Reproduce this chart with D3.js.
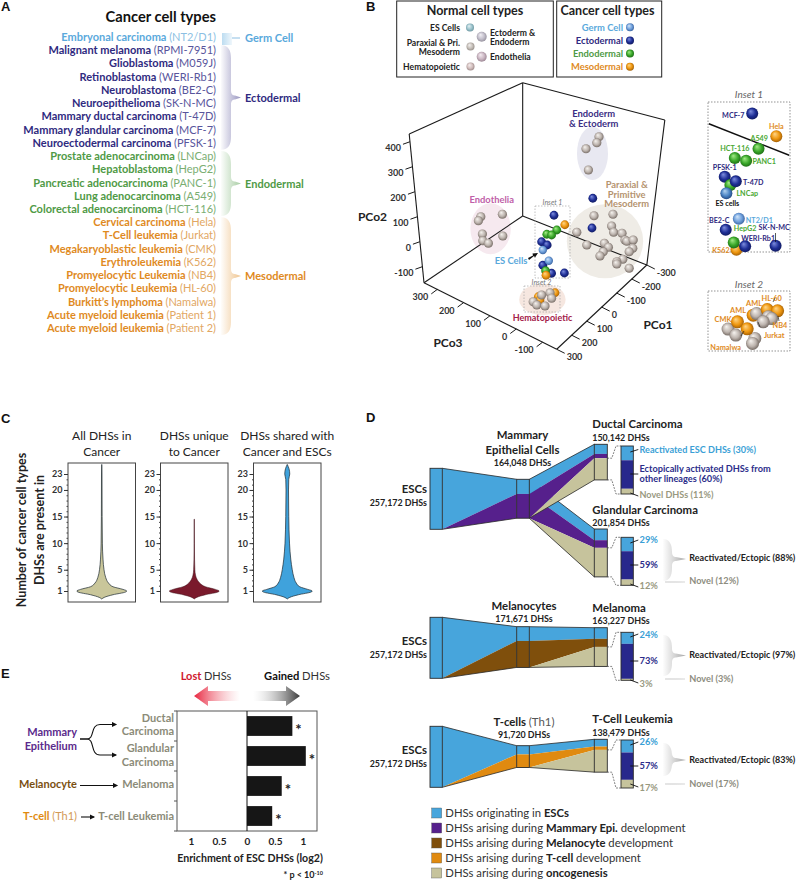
<!DOCTYPE html>
<html><head><meta charset="utf-8">
<script src="https://cdn.jsdelivr.net/npm/d3@7/dist/d3.min.js"></script>
<style>html,body{margin:0;padding:0;background:#fff}svg{display:block;font-family:Lato,"Open Sans",sans-serif}</style>
</head><body><script>
// ---------- DATA ----------
const cancerNames=["Embryonal carcinoma","Malignant melanoma","Glioblastoma","Retinoblastoma","Neuroblastoma","Neuroepithelioma","Mammary ductal carcinoma","Mammary glandular carcinoma","Neuroectodermal carcinoma","Prostate adenocarcinoma","Hepatoblastoma","Pancreatic adenocarcinoma","Lung adenocarcinoma","Colorectal adenocarcinoma","Cervical carcinoma","T-Cell leukemia","Megakaryoblastic leukemia","Erythroleukemia","Promyelocytic Leukemia","Promyelocytic Leukemia","Burkitt’s lymphoma","Acute myeloid leukemia","Acute myeloid leukemia"];
const cancerLines=["NT2/D1","RPMI-7951","M059J","WERI-Rb1","BE2-C","SK-N-MC","T-47D","MCF-7","PFSK-1","LNCap","HepG2","PANC-1","A549","HCT-116","Hela","Jurkat","CMK","K562","NB4","HL-60","Namalwa","Patient 1","Patient 2"];
const cancerLineage=["germ","ecto","ecto","ecto","ecto","ecto","ecto","ecto","ecto","endo","endo","endo","endo","endo","meso","meso","meso","meso","meso","meso","meso","meso","meso"];
const lineageKeys=["germ","ecto","endo","meso"];
const lineageLabels=["Germ Cell","Ectodermal","Endodermal","Mesodermal"];

// PCoA points, read in the plane of the picture [horizontal, vertical]
const endodermPts=[[162.5,425],[157,401],[130,377],[136,292]];
const endotheliaPts=[[-133,105],[-139,89],[-79,115],[-129,36],[-78,28],[-128,9],[-114,-1]];
const paraxialPts=[[150,109],[197.5,115],[194,68],[199,43],[220,39],[107,43],[227.5,12],[232,7],[248,12],[247,-21],[238,-35],[176,-1],[186,-17],[173,-35],[165,-52],[132,-8],[222,-65],[207,-75],[207,-84],[238,-101]];
const hemaPts=[[40,-199],[19,-208],[-2,-235],[7,-248],[27.5,-252],[44,-221]];
const cancerOrangePts=[[10.8,-215],[52.5,-199],[15,-228],[77,73],[30,-129]];
const cancerBluePts=[[147,179],[145,60],[50,111],[19,5],[33,-8],[22,-89],[44,-121],[76,-120]];
const cancerGreenPts=[[57,52],[32,35],[44,32],[29,-111]];
const cancerLightPts=[[37,-71],[22,-28]];
const frameCorners={backTop:[-28.3,641],backBottom:[-28.3,108],leftTop:[-312,436],leftBottom:[-275,-159],front:[56.7,-425],rightBottom:[282,-88],rightTop:[327,492]};
const pco1Ticks=[300,200,100,0,-100,-200,-300];
const pco2Ticks=[400,300,200,100,0,-100];
const pco3Ticks=[300,200,100,0,-100];

// Insets: percent across / up each inset
const inset1Pts=[["MCF-7",53.9,92.3,"blue"],["Hela",83.3,77.2,"orange"],["A549",61.6,68.8,"green"],["HCT-116",32.7,62.6,"green"],["PANC1",46.5,60.8,"green"],["PFSK-1",20.4,50.2,"blue"],["LNCap",27.3,44.7,"green"],["T-47D",33.9,47.1,"blue"],["ES cells",22.4,39.2,"steel"],["NT2/D1",37.6,22.1,"light"],["BE2-C",21.6,14.8,"blue"],["K562",34.7,1.5,"orange"],["HepG2",31.4,6.4,"green"],["WERI-Rb1",45.3,3.8,"blue"],["SK-N-MC",82.4,4.2,"blue"]];
const inset2Pts=[[24.5,36.5,"grey"],[33.9,26.5,"grey"],[57.1,21,"grey"],[54.3,12.7,"grey"],[55.1,59.7,"orange"],[59.2,62.4,"grey"],[72.2,69,"orange"],[84.9,66.9,"orange"],[73.5,56.9,"grey"],[77.6,54.1,"grey"],[67.3,48.6,"grey"],[35.9,48.6,"orange"],[47.8,37,"orange"]];
const inset2Labels=[["CMK",18.4,53.6],["AML",36.7,69.1],["AML",56.1,80.7],["HL-60",77.6,89],["NB4",87.8,44],["Jurkat",80.8,26],["Namalwa",21.6,6.1]];

// Violins: level (number of cell types) and relative density
const violinTitles=[["All DHSs in","Cancer"],["DHSs unique","to Cancer"],["DHSs shared with","Cancer and ESCs"]];
const violinLevelsA=[-0.5,-0.2,0.3,0.8,1,1.3,1.8,2.5,3.5,5,7,10,15,23,24.8];
const violinDensityA=[0,.1,.45,.95,1,.85,.45,.27,.16,.09,.05,.025,.015,.01,0];
const violinLevelsB=[-0.5,-0.2,0.3,0.8,1,1.3,1.8,2.5,3.2,4,5,7,10,14.5];
const violinDensityB=[0,.1,.45,.95,1,.85,.45,.22,.11,.05,.025,.012,.008,.006];
const violinLevelsC=[-0.5,-0.2,0.3,0.8,1,1.3,1.8,2.5,3.5,5,7,10,15,20,22,23,24,24.8];
const violinDensityC=[0,.1,.45,.95,1,.82,.5,.36,.27,.2,.14,.09,.06,.05,.06,.1,.07,0];
const violinTicks=[1,5,10,15,20,23];

// Enrichment bars
const enrichNames=["Ductal Carcinoma","Glandular Carcinoma","Melanoma","T-cell Leukemia"];
const enrichValues=[0.81,1.05,0.62,0.45];
const enrichTicks=[-1,-0.5,0,0.5,1];

// DHS flows
const escTotal=257172;
const mammaryTotal=164048,ductalTotal=150142,glandularTotal=201854,melanocyteTotal=171671,melanomaTotal=163227,tcellTotal=91720,leukemiaTotal=138479;
const mammaryShares=[.376,.624],ductalShares=[.27,.12,.61],glandularShares=[.234,.159,.607];
const melanocyteShares=[.35,.65],melanomaShares=[.287,.209,.504];
const tcellShares=[.40,.60],leukemiaShares=[.222,.10,.678];
const ductalDetail=[30,60,11],glandularDetail=[29,59,12],melanomaDetail=[24,73,3],leukemiaDetail=[26,57,17];
const legendPrefix=["DHSs originating in ","DHSs arising during ","DHSs arising during ","DHSs arising during ","DHSs arising during "];
const legendBold=["ESCs","Mammary Epi.","Melanocyte","T-cell","oncogenesis"];
const legendSuffix=[""," development"," development"," development",""];

// ---------- STYLES ----------
const lineageColor={germ:"#5aa9dc",ecto:"#2f2a80",endo:"#4f9a46",meso:"#e08a1e"};
const lineageSoft={germ:"#8cbfe3",ecto:"#58559c",endo:"#7aae72",meso:"#e2a763"};
const C={blue:"#47a5dc",purple:"#56208c",brown:"#7f4f0c",orange:"#e08a10",tan:"#c6c39c",navy:"#28288c",ink:"#222",grey:"#8b8b78"};
const sphereStops={blue:["#7f8fe0","#1f2f96","#0c1450"],green:["#a5ec88","#3aa82a","#14590f"],orange:["#ffd68a","#ee960e","#8a4e05"],grey:["#f7f4f0","#bdb4ae","#5e534c"],light:["#d3e6fa","#6fa0dc","#284f8c"],steel:["#b5d4f0","#4b84c4","#17376e"],fadeTeal:["#e6f2f5","#9cc3cc","#5e8a94"],fadeGrey:["#f5f2f0","#c5bfb9","#89817b"],fadeMauve:["#f6eef2","#cbb7c3","#8c7683"],fadePink:["#f7efee","#d2bfbe","#8f7b7a"],fadeLav:["#f3f1f6","#c3bfcb","#87838f"]};

// ---------- HELPERS ----------
const svg=d3.select("body").append("svg").attr("width",800).attr("height",880);
const defs=svg.append("defs");
Object.entries(sphereStops).forEach(([k,s])=>{
  const g=defs.append("radialGradient").attr("id","sp-"+k).attr("cx",.5).attr("cy",.5).attr("r",.6).attr("fx",.36).attr("fy",.3);
  [[0,s[0]],[.55,s[1]],[1,s[2]]].forEach(d=>g.append("stop").attr("offset",d[0]).attr("stop-color",d[1]));
});
let gid=0;
function hgrad(c1,o1,c2,o2){const id="g"+(gid++);const g=defs.append("linearGradient").attr("id",id);
  g.append("stop").attr("offset",0).attr("stop-color",c1).attr("stop-opacity",o1);
  g.append("stop").attr("offset",1).attr("stop-color",c2).attr("stop-opacity",o2);return `url(#${id})`;}
function txt(p,x,y,s,o={}){const t=p.append("text").attr("x",x).attr("y",y).attr("font-size",o.size||11).attr("fill",o.fill||C.ink).attr("text-anchor",o.anchor||"start").attr("font-weight",o.weight||400);
  if(o.style)t.attr("font-style",o.style);if(o.family)t.attr("font-family",o.family);if(s!=null)t.text(s);return t;}
function sphere(p,x,y,r,k){p.append("circle").attr("cx",x).attr("cy",y).attr("r",r).attr("fill",`url(#sp-${k})`);}
function brace(p,x0,y0,y1,xm,tipX,tipY,fill){
  const d=`M${x0},${y0}C${xm-2},${y0} ${xm},${y0+6} ${xm},${y0+13}L${xm},${tipY-7}C${xm},${tipY-3} ${xm+2},${tipY-2} ${xm+4},${tipY-2}L${tipX},${tipY}L${xm+4},${tipY+2}C${xm+2},${tipY+2} ${xm},${tipY+3} ${xm},${tipY+7}L${xm},${y1-13}C${xm},${y1-6} ${xm-2},${y1} ${x0},${y1}Z`;
  p.append("path").attr("d",d).attr("fill",fill);
}
[["A",1,11],["B",366,11],["C",1,423],["D",366,422],["E",1,678]].forEach(d=>txt(svg,d[1],d[2],d[0],{size:13,weight:700,family:"Liberation Sans",fill:"#111"}));

// ---------- PANEL A ----------
(function(){
  const g=svg.append("g");
  txt(g,216,22,"Cancer cell types",{size:14.7,weight:700,anchor:"end",fill:"#111"});
  const row=d3.scalePoint().domain(d3.range(cancerNames.length)).range([41,332]);
  cancerNames.forEach((n,i)=>{
    const l=cancerLineage[i];
    const t=txt(g,216,row(i),null,{size:11,anchor:"end"});
    t.append("tspan").attr("font-weight",700).attr("fill",lineageColor[l]).text(n+" ");
    t.append("tspan").attr("fill",lineageSoft[l]).text("("+cancerLines[i]+")");
  });
  lineageKeys.forEach((k,i)=>{
    const idx=cancerLineage.map((d,j)=>d===k?j:-1).filter(j=>j>=0);
    const y0=row(idx[0])-9,y1=row(idx[idx.length-1])+3,mid=(y0+y1)/2;
    const grad=hgrad(lineageColor[k],0.02,lineageColor[k],0.5);
    if(k==="germ"){
      g.append("rect").attr("x",222).attr("y",y0+1).attr("width",10).attr("height",y1-y0).attr("fill",hgrad(lineageColor[k],0.4,lineageColor[k],0.1));
      g.append("line").attr("x1",232).attr("x2",240).attr("y1",mid).attr("y2",mid).attr("stroke",lineageSoft[k]);
    } else brace(g,221,y0,y1,231,241,mid,grad);
    txt(g,245,mid+4,lineageLabels[i],{size:11,weight:700,fill:lineageColor[k]});
  });
})();

// ---------- PANEL B ----------
const xProj=d3.scaleLinear([-300,300],[414,654]);
const yProj=d3.scaleLinear([-100,400],[268,143]);
(function(){
  const g=svg.append("g");
  // Legends
  g.append("rect").attr("x",396.7).attr("y",1).attr("width",156.6).attr("height",76).attr("fill","#fff").attr("stroke","#222");
  g.append("rect").attr("x",556.7).attr("y",1).attr("width",105).attr("height",76).attr("fill","#fff").attr("stroke","#222");
  txt(g,475,15,"Normal cell types",{size:12.5,weight:700,anchor:"middle"});
  txt(g,607.5,15,"Cancer cell types",{size:12.5,weight:700,anchor:"middle"});
  [["ES Cells",460,31,470,27.5,"fadeTeal"],["Paraxial & Pri.",460,46,470.5,46.5,"fadeGrey"],["Mesoderm",460,55,null,0,""],["Hematopoietic",460,70,470.5,66.5,"fadePink"]].forEach(d=>{
    txt(g,d[1],d[2],d[0],{size:8.6,weight:700,anchor:"end"}); if(d[3])sphere(g,d[3],d[4],4,d[5]);
  });
  [["Ectoderm &",490,36],["Endoderm",490,44.5],["Endothelia",490,60]].forEach(d=>txt(g,d[1],d[2],d[0],{size:8.6,weight:700}));
  sphere(g,481.7,36.7,5,"fadeLav");sphere(g,481.7,56.7,5,"fadeMauve");
  const cy=d3.scalePoint().domain(lineageKeys).range([27.3,66.7]);
  const legendSphere={germ:"light",ecto:"blue",endo:"green",meso:"orange"};
  lineageKeys.forEach((k,i)=>{txt(g,623,cy(k)+3.5,lineageLabels[i],{size:9.4,weight:700,anchor:"end",fill:lineageColor[k]});sphere(g,630,cy(k),4,legendSphere[k]);});

  // cluster halos from the cluster extents
  const halo=(pts,pad,fill,pw,ph)=>{
    const ex=d3.extent(pts,d=>xProj(d[0])),ey=d3.extent(pts,d=>yProj(d[1]));
    g.append("ellipse").attr("cx",(ex[0]+ex[1])/2).attr("cy",(ey[0]+ey[1])/2).attr("rx",(ex[1]-ex[0])/2+(pw||pad)).attr("ry",(ey[1]-ey[0])/2+(ph||pad)).attr("fill",fill);
  };
  halo(endodermPts,10,"#e8e8f1",9,10);
  halo(endotheliaPts,10,"#f6e9ef",8,11);
  halo(paraxialPts,10,"#efece6",10,10);
  halo(hemaPts,10,"#f6e7e0",14,9);

  // frame
  const P=c=>[xProj(frameCorners[c][0]),yProj(frameCorners[c][1])];
  [["backTop","backBottom"],["backTop","leftTop"],["backTop","rightTop"],["leftTop","leftBottom"],["rightTop","rightBottom"],["backBottom","leftBottom"],["backBottom","rightBottom"],["leftBottom","front"],["front","rightBottom"]].forEach(e=>{
    const a=P(e[0]),b=P(e[1]);
    g.append("line").attr("x1",a[0]).attr("y1",a[1]).attr("x2",b[0]).attr("y2",b[1]).attr("stroke","#1a1a1a").attr("stroke-width",1.1);
  });
  const axis3d=(ticks,dom,tr,a,b,dx,dy,lx,ly,anchor)=>{
    const t=d3.scaleLinear(dom,tr);const ip=d3.interpolate(P(a),P(b));
    ticks.forEach(v=>{const q=ip(t(v));
      g.append("line").attr("x1",q[0]).attr("y1",q[1]).attr("x2",q[0]+dx).attr("y2",q[1]+dy).attr("stroke","#1a1a1a");
      txt(g,q[0]+lx,q[1]+ly,d3.format("d")(v).replace("−","-"),{size:9,anchor,weight:700,fill:"#333"});
    });
  };
  axis3d(pco2Ticks,[-100,400],[.108,.948],"leftBottom","leftTop",-7,2.5,-9,9,"end");
  axis3d(pco3Ticks,[300,-100],[.10,.894],"leftBottom","front",-6,4.5,-9,11,"end");
  axis3d(pco1Ticks,[300,-300],[0,1],"front","rightBottom",8,4,10,11,"start");
  txt(g,372.5,221,"PCo2",{size:12,weight:700,anchor:"middle",fill:"#222"});
  txt(g,448,347,"PCo3",{size:12,weight:700,anchor:"middle",fill:"#222"});
  txt(g,658,329,"PCo1",{size:12,weight:700,anchor:"middle",fill:"#222"});

  // inset boxes
  [[535,206,35,72],[524,286,36,26]].forEach(b=>g.append("rect").attr("x",b[0]).attr("y",b[1]).attr("width",b[2]).attr("height",b[3]).attr("fill","none").attr("stroke","#a8a8a8").attr("stroke-width",.7).attr("stroke-dasharray","1.5 1.5"));
  txt(g,552.5,205,"Inset 1",{size:7,style:"italic",anchor:"middle",fill:"#777"});
  txt(g,541.5,284.5,"Inset 2",{size:7,style:"italic",anchor:"middle",fill:"#777"});

  // spheres
  const draw=(pts,k,r)=>pts.forEach(d=>sphere(g,xProj(d[0]),yProj(d[1]),r,k));
  draw(endodermPts,"grey",4.6);draw(endotheliaPts,"grey",4.6);draw(paraxialPts,"grey",4.6);
  draw(cancerBluePts,"blue",4.4);draw(cancerGreenPts,"green",4.4);draw(cancerLightPts,"light",4.2);
  draw(cancerOrangePts,"orange",4.4);draw(hemaPts,"grey",4.6);

  // labels
  txt(g,593.7,117,"Endoderm",{size:9.4,weight:700,anchor:"middle",fill:"#3b2e84"});
  txt(g,593.7,127,"& Ectoderm",{size:9.4,weight:700,anchor:"middle",fill:"#3b2e84"});
  ["Paraxial &","Primitive","Mesoderm"].forEach((s,i)=>txt(g,626.7,188+i*9.7,s,{size:9.4,weight:700,anchor:"middle",fill:"#b5936f"}));
  txt(g,491.7,203,"Endothelia",{size:9.4,weight:700,anchor:"middle",fill:"#c060a8"});
  txt(g,511,264,"ES Cells",{size:9.4,weight:700,anchor:"middle",fill:"#5aa9dc"});
  g.append("path").attr("d","M528,258L533,255.5L532.5,253.5L538,253L535,257.5L534,256L529,260Z").attr("fill","#111");
  txt(g,542.5,321,"Hematopoietic",{size:9,weight:700,anchor:"middle",fill:"#a3204a"});
})();

// Insets on the right
(function(){
  const g=svg.append("g");
  const box1={x:708,y:102,w:82,h:150},box2={x:708,y:291,w:82,h:60};
  [box1,box2].forEach(b=>g.append("rect").attr("x",b.x).attr("y",b.y).attr("width",b.w).attr("height",b.h).attr("fill","none").attr("stroke","#666").attr("stroke-width",.7).attr("stroke-dasharray","1.5 1.5"));
  txt(g,749,98,"Inset 1",{size:10,style:"italic",anchor:"middle",fill:"#666"});
  txt(g,749,288,"Inset 2",{size:10,style:"italic",anchor:"middle",fill:"#666"});
  const x1=d3.scaleLinear([0,100],[box1.x,box1.x+box1.w]),y1=d3.scaleLinear([0,100],[box1.y+box1.h,box1.y]);
  const x2=d3.scaleLinear([0,100],[box2.x,box2.x+box2.w]),y2=d3.scaleLinear([0,100],[box2.y+box2.h,box2.y]);
  g.append("line").attr("x1",x1(1)).attr("y1",y1(85.5)).attr("x2",x1(99)).attr("y2",y1(64.5)).attr("stroke","#111").attr("stroke-width",1.4);
  inset1Pts.forEach(d=>sphere(g,x1(d[1]),y1(d[2]),6,d[3]));
  const place={"MCF-7":[-7.7,1,"end"],"Hela":[0,-10,"middle"],"A549":[.7,-10.7,"middle"],"HCT-116":[0,-9.7,"middle"],"PANC1":[6.3,0,"start"],"PFSK-1":[0,-9.3,"middle"],"T-47D":[7.3,.3,"start"],"LNCap":[6,8.3,"start"],"ES cells":[1,9.3,"middle"],"NT2/D1":[7,.7,"start"],"BE2-C":[-16.7,-9.7,"start"],"K562":[-24.3,0,"start"],"HepG2":[0,-14,"start"],"SK-N-MC":[-17,-18.5,"start"],"WERI-Rb1":[-4,-8.2,"start"]};
  const lab={blue:lineageColor.ecto,green:"#4aa832",orange:lineageColor.meso,light:lineageColor.germ,steel:"#111"};
  inset1Pts.forEach(d=>{const p=place[d[0]];txt(g,x1(d[1])+p[0],y1(d[2])+p[1]+3,d[0],{size:7.2,weight:700,anchor:p[2],fill:lab[d[3]]});});
  // label leaders in inset 1
  g.append("line").attr("x1",775.5).attr("x2",775.5).attr("y1",233).attr("y2",242).attr("stroke","#111").attr("stroke-width",.7);
  inset2Pts.forEach(d=>sphere(g,x2(d[0]),y2(d[1]),6.5,d[2]));
  inset2Labels.forEach(d=>txt(g,x2(d[1]),y2(d[2])+3,d[0],{size:7.4,weight:700,anchor:"middle",fill:lineageColor.meso}));
  // label leaders in inset 2
  [[775,298,773,302],[778,316,779,321],[760,327,758,322],[741,336,744,331]].forEach(d=>g.append("line").attr("x1",d[0]).attr("y1",d[1]).attr("x2",d[2]).attr("y2",d[3]).attr("stroke","#222").attr("stroke-width",.7));
})();

// ---------- PANEL C ----------
(function(){
  const g=svg.append("g");
  const y=d3.scaleLinear([1,23],[591,474]);
  const lefts=[68,160.5,253.5],width=67.5,w=d3.scaleLinear([0,1],[0,25]);
  const series=[[violinLevelsA,violinDensityA,"#c9c69a"],[violinLevelsB,violinDensityB,"#7a1a2c"],[violinLevelsC,violinDensityC,"#3fa2dc"]];
  series.forEach((s,i)=>{
    const L=lefts[i],c=L+width/2;
    g.append("rect").attr("x",L).attr("y",463).attr("width",width).attr("height",139).attr("fill","#fff").attr("stroke","#444").attr("stroke-width",1);
    const rows=s[0].map((v,j)=>[v,s[1][j]]);
    const area=d3.area().y(d=>y(d[0])).x0(d=>c-w(d[1])).x1(d=>c+w(d[1])).curve(d3.curveMonotoneY);
    g.append("path").attr("d",area(rows)).attr("fill",s[2]).attr("stroke",i==1?"#3a0d14":"#1c2a30").attr("stroke-width",i==1?.5:.7);
    const ax=d3.axisLeft(y).tickValues(d3.range(1,24)).tickSize(1.5).tickFormat("");
    const ag=g.append("g").attr("transform",`translate(${L},0)`).call(ax);
    ag.select(".domain").remove();ag.selectAll("line").attr("stroke","#444");
    const ax2=d3.axisLeft(y).tickValues(violinTicks).tickSize(4).tickPadding(1.5);
    const ag2=g.append("g").attr("transform",`translate(${L},0)`).call(ax2);
    ag2.select(".domain").remove();ag2.selectAll("line").attr("stroke","#333");
    ag2.selectAll("text").attr("font-size",9).attr("font-family","Lato").attr("font-weight",700).attr("fill","#333");
    violinTitles[i].forEach((t,j)=>txt(g,c,440+j*15.5,t,{size:12,anchor:"middle",fill:"#222"}));
  });
  [["Number of cancer cell types",25.5],["DHSs are present in",44]].forEach(d=>
    txt(g,0,0,d[0],{size:12.5,weight:700,anchor:"middle",fill:"#222"}).attr("transform",`translate(${d[1]},530) rotate(-90)`));
})();

// ---------- PANEL E ----------
(function(){
  const g=svg.append("g");
  const x=d3.scaleLinear([-1,1],[191,303]);
  const y=d3.scaleBand().domain(enrichNames).range([711,831]).paddingInner(.34).paddingOuter(.17);
  g.selectAll("rect.bar").data(enrichValues).join("rect").attr("class","bar").attr("x",x(0)).attr("y",(d,i)=>y(enrichNames[i])).attr("width",d=>x(d)-x(0)).attr("height",y.bandwidth()).attr("fill","#161616");
  enrichValues.forEach((d,i)=>txt(g,x(d)+3,y(enrichNames[i])+y.bandwidth()/2+9,"*",{size:15,weight:700}));
  g.append("rect").attr("x",177).attr("y",711).attr("width",140).attr("height",120).attr("fill","none").attr("stroke","#555").attr("stroke-width",1);
  g.append("line").attr("x1",x(0)).attr("x2",x(0)).attr("y1",711).attr("y2",831).attr("stroke","#111").attr("stroke-width",1);
  const step=y.step();
  d3.range(5).forEach(i=>g.append("line").attr("x1",174).attr("x2",177).attr("y1",711+i*step).attr("y2",711+i*step).attr("stroke","#555"));
  const ax=g.append("g").attr("transform","translate(0,831)").call(d3.axisBottom(x).tickValues(enrichTicks).tickSize(0).tickPadding(7).tickFormat(d=>Math.abs(d)));
  ax.select(".domain").remove();
  ax.selectAll("text").attr("font-size",10).attr("font-family","Lato").attr("font-weight",700).attr("fill","#222");
  txt(g,250,862,"Enrichment of ESC DHSs (log2)",{size:10.6,weight:700,anchor:"middle"});
  const p=txt(g,323,878,null,{size:9,weight:700,anchor:"end"});p.append("tspan").text("* p < 10");p.append("tspan").attr("font-size",5.5).attr("dy",-3).text("-10");
  const lost=txt(g,206,680,null,{size:11,anchor:"middle"});lost.append("tspan").attr("font-weight",700).attr("fill","#d0182e").text("Lost ");lost.append("tspan").attr("fill","#333").text("DHSs");
  const gain=txt(g,297,680,null,{size:11.2,anchor:"middle"});gain.append("tspan").attr("font-weight",700).attr("fill","#111").text("Gained ");gain.append("tspan").attr("fill","#333").text("DHSs");
  g.append("path").attr("d","M194,696L208,686V691H240V701H208V706Z").attr("fill",hgrad("#e8263f",1,"#f3a0a8",0));
  g.append("path").attr("d","M300,696L286,686V691H253V701H286V706Z").attr("fill",hgrad("#cccccc",0,"#3a3a3a",1));
  const right=(s,yy)=>txt(g,174,yy,s,{size:11,weight:700,anchor:"end",fill:C.grey});
  right("Ductal",722);right("Carcinoma",735);right("Glandular",752);right("Carcinoma",766);right("Melanoma",788);right("T-cell Leukemia",820);
  const left=(s,yy,f)=>txt(g,77,yy,s,{size:11,weight:700,anchor:"end",fill:f});
  left("Mammary",736,"#5b2a8c");left("Epithelium",750,"#5b2a8c");left("Melanocyte",788,"#7a4f10");
  const tc=txt(g,77,820,null,{size:11,anchor:"end"});tc.append("tspan").attr("font-weight",700).attr("fill",C.orange).text("T-cell ");tc.append("tspan").attr("fill","#d39a55").text("(Th1)");
  defs.append("marker").attr("id","ah").attr("markerWidth",6).attr("markerHeight",6).attr("refX",4).attr("refY",2.5).attr("orient","auto").append("path").attr("d","M0,0L5,2.5L0,5Z").attr("fill","#111");
  const curve=d=>g.append("path").attr("d",d).attr("fill","none").attr("stroke","#111").attr("stroke-width",1.1).attr("marker-end","url(#ah)");
  curve("M80,739H87C95,739 90,724.5 100,724.5H116");curve("M80,739H87C95,739 90,755 100,755H116");curve("M80,785.5H117");curve("M81,817H94");
})();

// ---------- PANEL D ----------
(function(){
  const g=svg.append("g");
  const h=d3.scaleLinear([0,escTotal],[0,61]);
  const X={escL:430,escR:442.3,midL:516.7,midR:529.3,rL:594.3,rR:607.3,dL:621,dR:633.3};
  const stack=(total,shares,top)=>{let y=top;const o=[y];shares.forEach(s=>{y+=h(total)*s;o.push(y);});return o;};
  const poly=(pts,fill)=>g.append("path").attr("d",d3.line()(pts)+"Z").attr("fill",fill);
  const edge=(a,b,c,d)=>g.append("line").attr("x1",a).attr("y1",b).attr("x2",c).attr("y2",d).attr("stroke","#2a2a2a").attr("stroke-width",.8);
  const bar=(x0,x1,ys,cols)=>{cols.forEach((c,i)=>g.append("rect").attr("x",x0).attr("y",ys[i]).attr("width",x1-x0).attr("height",ys[i+1]-ys[i]).attr("fill",c));
    g.append("rect").attr("x",x0).attr("y",ys[0]).attr("width",x1-x0).attr("height",ys[ys.length-1]-ys[0]).attr("fill","none").attr("stroke","#2a2a2a").attr("stroke-width",.9);};
  const toRight=(m,r,col)=>{
    poly([[X.midR,m[0]],[X.rL,r[0]],[X.rL,r[1]],[X.midR,m[1]]],C.blue);
    poly([[X.midR,m[1]],[X.rL,r[1]],[X.rL,r[2]],[X.midR,m[2]]],col);
    poly([[X.midR,m[2]],[X.rL,r[2]],[X.rL,r[3]]],C.tan);
    edge(X.midR,m[0],X.rL,r[0]);edge(X.midR,m[2],X.rL,r[3]);
    bar(X.rL,X.rR,r,[C.blue,col,C.tan]);
  };
  const fromEsc=(e,m,col)=>{
    poly([[X.escR,e],[X.midL,m[0]],[X.midL,m[1]],[X.escR,e+h(escTotal)]],C.blue);
    poly([[X.escR,e+h(escTotal)],[X.midL,m[1]],[X.midL,m[2]]],col);
    edge(X.escR,e,X.midL,m[0]);edge(X.escR,e+h(escTotal),X.midL,m[2]);
    bar(X.escL,X.escR,[e,e+h(escTotal)],[C.blue]);
  };
  const detail=(r,top,vals)=>{
    const sc=d3.scaleLinear([0,d3.sum(vals)],[0,48]);
    let acc=0;const ys=[top];vals.forEach(v=>{acc+=v;ys.push(top+sc(acc));});
    bar(X.dL,X.dR,ys,[C.blue,C.navy,C.tan]);
    const dash=(a,b)=>g.append("path").attr("d",`M${X.rR},${a}H${X.rR+4.5}L${X.dL-5},${b}H${X.dL}`).attr("fill","none").attr("stroke","#444").attr("stroke-width",.7).attr("stroke-dasharray","1.8 1.2");
    dash(r[2],ys[0]);dash(r[3],ys[3]);
    return ys;
  };
  const leader=(y1,y2)=>g.append("line").attr("x1",X.dR-3).attr("y1",y1).attr("x2",X.dR+5).attr("y2",y2).attr("stroke","#111").attr("stroke-width",.9);
  const title=(x,yy,s,a)=>txt(g,x,yy,s,{size:11.4,weight:700,anchor:a||"start",fill:"#222"});
  const count=(x,yy,s,a)=>txt(g,x,yy,s,{size:8.9,weight:700,anchor:a||"start",fill:"#222"});
  const esc=(yy)=>{title(427,yy,"ESCs","end");count(427,yy+13,"257,172 DHSs","end");};
  const pct=(yy,s,f)=>txt(g,639.5,yy,s,{size:9.3,weight:700,fill:f});
  const summary=(y1,y2,y3,tip,s1,yt1,s2,yt2)=>{
    brace(g,663,y1,y2,672,686,tip,hgrad("#999",0.02,"#888",0.75));
    txt(g,689.3,yt1,s1,{size:9,weight:700,fill:"#222"});
    g.append("rect").attr("x",665).attr("y",y3-1).attr("width",20).attr("height",2).attr("fill",hgrad("#aaa",.3,"#ddd",.6));
    txt(g,689.3,yt2,s2,{size:9.2,weight:700,fill:"#8d8d80"});
  };

  // Mammary
  const m1=stack(mammaryTotal,mammaryShares,479.3),r1=stack(ductalTotal,ductalShares,444.3),r2=stack(glandularTotal,glandularShares,529);
  toRight(m1,r2,C.purple);toRight(m1,r1,C.purple);
  fromEsc(468.3,m1,C.purple);bar(X.midL,X.midR,m1,[C.blue,C.purple]);
  detail(r1,446,ductalDetail);detail(r2,537.3,glandularDetail);
  esc(493);
  title(522.5,439,"Mammary","middle");title(522.5,453.5,"Epithelial Cells","middle");count(522.5,466,"164,048 DHSs","middle");
  title(592.3,428,"Ductal Carcinoma");count(592.3,441,"150,142 DHSs");
  title(592.3,513.5,"Glandular Carcinoma");count(592.3,526,"201,854 DHSs");
  txt(g,639.5,453,"Reactivated ESC DHSs (30%)",{size:9.1,weight:700,fill:"#3a9fd6"});
  txt(g,639.5,471.5,"Ectopically activated DHSs from",{size:9.2,weight:700,fill:"#2b2d8a"});
  txt(g,639.5,482,"other lineages (60%)",{size:9.2,weight:700,fill:"#2b2d8a"});
  txt(g,639.5,498,"Novel DHSs (11%)",{size:9.1,weight:700,fill:"#99997f"});
  leader(452,449.5);leader(474,474);leader(493,496);
  pct(543,glandularDetail[0]+"%","#3a9fd6");pct(568,glandularDetail[1]+"%","#2b2d8a");pct(589,glandularDetail[2]+"%","#99997f");
  leader(543,540);leader(565,565);leader(584,587);
  summary(539,581,582,559,"Reactivated/Ectopic (88%)",561,"Novel (12%)",584);

  // Melanocytes
  const m3=stack(melanocyteTotal,melanocyteShares,626.7),r3=stack(melanomaTotal,melanomaShares,627.7);
  toRight(m3,r3,C.brown);fromEsc(617.3,m3,C.brown);bar(X.midL,X.midR,m3,[C.blue,C.brown]);
  detail(r3,632.3,melanomaDetail);
  esc(645);
  title(524,610,"Melanocytes","middle");count(524,622,"171,671 DHSs","middle");
  title(592.3,611.7,"Melanoma");count(592.3,624.3,"163,227 DHSs");
  pct(637.7,melanomaDetail[0]+"%","#3a9fd6");pct(664.3,melanomaDetail[1]+"%","#2b2d8a");pct(687,melanomaDetail[2]+"%","#99997f");
  leader(637,634);leader(661,661);leader(680,683);
  summary(635,676,679,655.5,"Reactivated/Ectopic (97%)",658,"Novel (3%)",681.7);

  // T cells
  const m4=stack(tcellTotal,tcellShares,745.7),r4=stack(leukemiaTotal,leukemiaShares,739.3);
  toRight(m4,r4,C.orange);fromEsc(726.3,m4,C.orange);bar(X.midL,X.midR,m4,[C.blue,C.orange]);
  detail(r4,740,leukemiaDetail);
  esc(754);
  const tt=txt(g,524,726,null,{size:11.4,anchor:"middle"});tt.append("tspan").attr("font-weight",700).attr("fill","#222").text("T-cells ");tt.append("tspan").attr("fill","#555").text("(Th1)");
  count(524,738.3,"91,720 DHSs","middle");
  title(592.3,723,"T-Cell Leukemia");count(592.3,735.7,"138,479 DHSs");
  pct(745,leukemiaDetail[0]+"%","#3a9fd6");pct(769,leukemiaDetail[1]+"%","#2b2d8a");pct(790.7,leukemiaDetail[2]+"%","#99997f");
  leader(745,742);leader(766,766);leader(784,787);
  summary(743,776,784,760,"Reactivated/Ectopic (83%)",762.7,"Novel (17%)",786.7);

  // Legend
  const ly=d3.scalePoint().domain(d3.range(5)).range([808,868]);
  const legCols=[C.blue,C.purple,C.brown,C.orange,C.tan];
  legCols.forEach((c,i)=>{
    g.append("rect").attr("x",431.7).attr("y",ly(i)).attr("width",10).attr("height",10).attr("fill",c).attr("stroke","#555").attr("stroke-width",.4);
    const t=txt(g,445.3,ly(i)+9.3,null,{size:11.3,fill:"#333"});
    t.append("tspan").text(legendPrefix[i]);t.append("tspan").attr("font-weight",700).attr("fill","#222").text(legendBold[i]);t.append("tspan").text(legendSuffix[i]);
  });
})();
</script></body></html>
